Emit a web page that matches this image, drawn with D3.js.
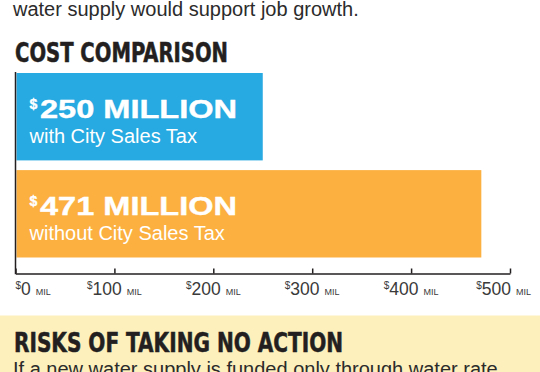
<!DOCTYPE html>
<html>
<head>
<meta charset="utf-8">
<script src="https://cdn.jsdelivr.net/npm/d3@7"></script>
<style>
    html, body { margin: 0; padding: 0; background: #fff; }
    svg { display: block; }
    .head { font-family: "Liberation Sans Narrow", "DejaVu Sans Condensed", sans-serif; font-weight: 700; fill: #231f20; stroke: #231f20; stroke-width: 0.5px; }
    .body-text { font-family: "Liberation Sans", Arial, sans-serif; fill: #2b2b2b; }
    .bar-big { font-family: "Liberation Sans", Arial, sans-serif; font-weight: 700; fill: #fff; stroke: #fff; stroke-width: 0.4px; }
    .bar-small { font-family: "Liberation Sans", Arial, sans-serif; fill: #fff; }
    .tick-label { font-family: "Liberation Sans", Arial, sans-serif; fill: #3a3a3a; }
</style>
</head>
<body>
<div id="chart"></div>
<script>
// data
const categories = ["with City Sales Tax", "without City Sales Tax"];
const costs = [250, 471];
const costLabels = ["250 MILLION", "471 MILLION"];
const tickValues = [0, 100, 200, 300, 400, 500];

const barColors = ["#27a9e1", "#fbb040"];

const width = 540;
const height = 372;

const margin = {top: 73, left: 15.5, right: 30, axis: 273.5};

const svg = d3.select("#chart").append("svg")
    .attr("width", width)
    .attr("height", height);

// surrounding copy

svg.append("text")
    .attr("class", "body-text")
    .attr("x", 13)
    .attr("y", 15.5)
    .style("font-size", "20px")
    .text("water supply would support job growth.");

svg.append("text")
    .attr("class", "head")
    .attr("x", 15)
    .attr("y", 62)
    .style("font-size", "26px")
    .attr("textLength", 213)
    .attr("lengthAdjust", "spacingAndGlyphs")
    .text("COST COMPARISON");

// scales

const x = d3.scaleLinear()
    .domain([0, 500])
    .range([margin.left, width - margin.right]);

const y = d3.scaleBand()
    .domain(categories)
    .range([margin.top, 257.5])
    .paddingInner(0.1);

const chart = svg.append("g");

chart.selectAll(".bar")
    .data(costs)
    .join("rect")
    .attr("class", "bar")
    .attr("x", x(0) + 1)
    .attr("y", (d, i) => y(categories[i]))
    .attr("width", d => x(d) - x(0) - 1)
    .attr("height", y.bandwidth())
    .attr("fill", (d, i) => barColors[i]);

// bar text

const labelX = x(0) + 14;

chart.selectAll(".bar-dollar")
    .data(categories)
    .join("text")
    .attr("class", "bar-big bar-dollar")
    .attr("x", labelX)
    .attr("y", d => y(d) + 36)
    .style("font-size", "14px")
    .text("$");

chart.selectAll(".bar-value")
    .data(costLabels)
    .join("text")
    .attr("class", "bar-big bar-value")
    .attr("x", labelX + 10.5)
    .attr("y", (d, i) => y(categories[i]) + 45)
    .style("font-size", "25px")
    .attr("textLength", 197)
    .attr("lengthAdjust", "spacingAndGlyphs")
    .text(d => d);

chart.selectAll(".bar-sub")
    .data(categories)
    .join("text")
    .attr("class", "bar-small bar-sub")
    .attr("x", labelX)
    .attr("y", d => y(d) + 70)
    .style("font-size", "20px")
    .text(d => d);

// axes

const xAxis = chart.append("g")
    .attr("transform", `translate(0 ${margin.axis})`)
    .call(d3.axisBottom(x).tickValues(tickValues).tickSizeInner(-5).tickSizeOuter(0).tickFormat(""));

xAxis.select(".domain").attr("stroke", "#231f20").attr("stroke-width", 1.5);
xAxis.selectAll(".tick line").attr("stroke", "#231f20").attr("stroke-width", 1.5);

chart.append("line")
    .attr("x1", x(0)).attr("x2", x(0))
    .attr("y1", y.range()[0] - 1)
    .attr("y2", margin.axis + 0.75)
    .attr("stroke", "#231f20")
    .attr("stroke-width", 1.5);

// tick labels: superscript $, number, small MIL

const tickLabels = chart.selectAll(".tick-label")
    .data(tickValues)
    .join("text")
    .attr("class", "tick-label")
    .attr("y", 295);

tickLabels.append("tspan")
    .style("font-size", "10px")
    .attr("dy", -6)
    .text("$");

tickLabels.append("tspan")
    .style("font-size", "17.5px")
    .attr("dy", 6)
    .text(d => d);

tickLabels.append("tspan")
    .style("font-size", "9px")
    .attr("dx", 5)
    .text("MIL");

tickLabels.attr("x", function (d, i) {
    const w = this.getBBox().width;
    if (i === 0) return x(d);
    return Math.min(x(d) - w / 2, width - 9 - w);
});

// next section

svg.append("rect")
    .attr("x", 0)
    .attr("y", 315.5)
    .attr("width", width)
    .attr("height", height - 315.5)
    .attr("fill", "#fdf0bd");

svg.append("text")
    .attr("class", "head")
    .attr("x", 14)
    .attr("y", 352)
    .style("font-size", "26px")
    .attr("textLength", 329)
    .attr("lengthAdjust", "spacingAndGlyphs")
    .text("RISKS OF TAKING NO ACTION");

svg.append("text")
    .attr("class", "body-text")
    .attr("x", 13)
    .attr("y", 375.5)
    .style("font-size", "20px")
    .text("If a new water supply is funded only through water rate");
</script>
</body>
</html>
